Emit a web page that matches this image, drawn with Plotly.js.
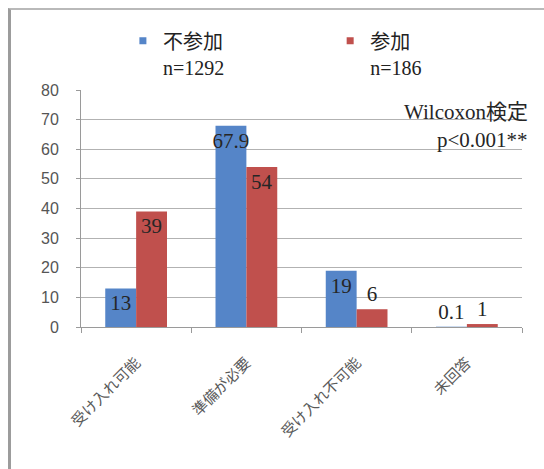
<!DOCTYPE html>
<html>
<head>
<meta charset="utf-8">
<script src="https://cdn.plot.ly/plotly-3.0.1.min.js"></script>
<style>
  html, body { margin: 0; padding: 0; background: #ffffff; }
  #wrap { position: relative; width: 544px; height: 469px; overflow: hidden; }
  #chart { position: absolute; left: 0; top: 0; width: 544px; height: 469px; }
  #frame {
    position: absolute; left: 8px; top: 8px; width: 600px; height: 520px;
    border-left: 3px solid #9c9c9c; border-top: 2px solid #b9b9b9;
    pointer-events: none;
  }
</style>
</head>
<body>
<div id="wrap">
  <div id="chart"></div>
  <div id="frame"></div>
</div>
<script>
// Response categories
const categories = ['受け入れ可能', '準備が必要', '受け入れ不可能', '未回答'];

// Percentages per group
const nonParticipants = [13, 67.9, 19, 0.1];
const participants = [39, 54, 6, 1];

// Legend labels
const nonParticipantName = '不参加<br>n=1292';
const participantName = '参加<br>n=186';

// Test note
const testName = 'Wilcoxon検定';
const testResult = 'p<0.001**';

const BLUE = '#5585c8';
const RED = '#c0504d';
const SERIF = 'Liberation Serif, Noto Sans CJK JP, serif';
const labelFont = { family: SERIF, size: 21, color: '#262626' };

// labels sit inside tall bars, above short ones
const placement = vals => vals.map(v => (v >= 10 ? 'inside' : 'outside'));

function barTrace(values, color) {
  return {
    type: 'bar',
    x: categories,
    y: values,
    text: values.map(String),
    textposition: placement(values),
    insidetextanchor: 'end',
    textangle: 0,
    constraintext: 'none',
    cliponaxis: false,
    textfont: labelFont,
    marker: { color: color, line: { width: 0 } },
    showlegend: false,
    hoverinfo: 'x+y'
  };
}

// small square swatches for the legends
function legendSwatch(name, color, legendId) {
  return {
    type: 'scatter',
    mode: 'markers',
    x: [null],
    y: [null],
    name: name,
    legend: legendId,
    marker: { symbol: 'square', size: 7, color: color },
    hoverinfo: 'skip'
  };
}

const data = [
  barTrace(nonParticipants, BLUE),
  barTrace(participants, RED),
  legendSwatch(nonParticipantName, BLUE, 'legend'),
  legendSwatch(participantName, RED, 'legend2')
];

const legendStyle = {
  orientation: 'v',
  xanchor: 'left',
  y: 1.29,
  yanchor: 'top',
  valign: 'top',
  font: { family: SERIF, size: 20, color: '#222222' },
  bgcolor: 'rgba(0,0,0,0)'
};

const layout = {
  width: 544,
  height: 469,
  margin: { l: 81, r: 22, t: 90, b: 142 },
  paper_bgcolor: 'rgba(0,0,0,0)',
  plot_bgcolor: '#ffffff',
  barmode: 'group',
  bargap: 0.44,
  bargroupgap: 0,
  showlegend: true,
  legend: Object.assign({ x: 0.095 }, legendStyle),
  legend2: Object.assign({ x: 0.565 }, legendStyle),
  xaxis: {
    type: 'category',
    tickangle: -45,
    tickfont: { family: 'Noto Sans CJK JP, sans-serif', size: 15, color: '#5a5a5a' },
    ticks: 'outside',
    tickson: 'boundaries',
    ticklen: 5,
    tickcolor: '#9a9a9a',
    showline: true,
    linecolor: '#9a9a9a',
    linewidth: 1,
    showgrid: false,
    ticklabelstandoff: 20,
    fixedrange: true
  },
  yaxis: {
    range: [0, 80],
    dtick: 10,
    tick0: 0,
    showgrid: true,
    gridcolor: '#b2b2b2',
    gridwidth: 1,
    zeroline: false,
    showline: true,
    linecolor: '#9a9a9a',
    linewidth: 1,
    ticks: 'outside',
    ticklen: 4,
    tickcolor: '#9a9a9a',
    tickfont: { family: 'Liberation Sans, Arial, sans-serif', size: 16, color: '#555555' },
    ticklabelstandoff: 14,
    fixedrange: true
  },
  annotations: [
    {
      xref: 'paper', yref: 'paper', x: 1.018, y: 0.907,
      xanchor: 'right', yanchor: 'middle', showarrow: false,
      text: testName, font: labelFont
    },
    {
      xref: 'paper', yref: 'paper', x: 1.018, y: 0.789,
      xanchor: 'right', yanchor: 'middle', showarrow: false,
      text: testResult, font: labelFont
    }
  ]
};

Plotly.newPlot('chart', data, layout, { displayModeBar: false, staticPlot: true });
</script>
</body>
</html>
